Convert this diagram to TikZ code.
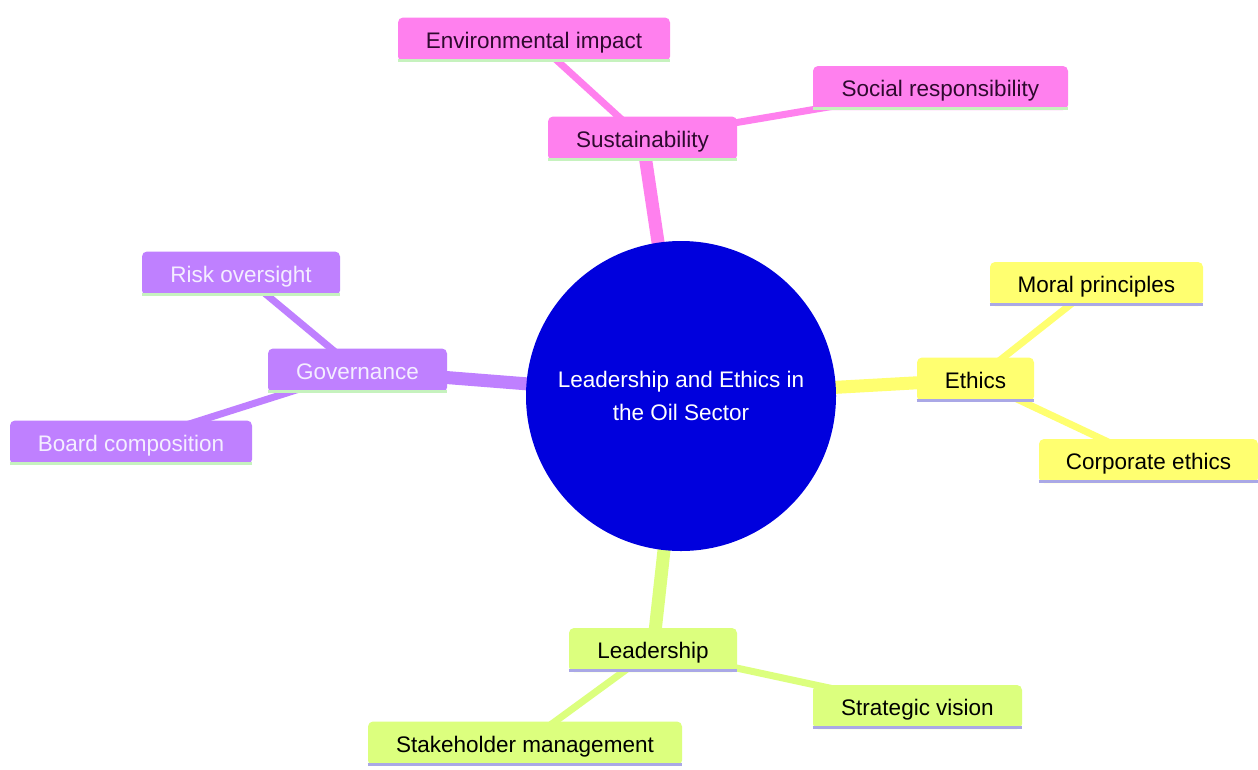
\documentclass[tikz,border=0pt]{standalone}
\usepackage{fontspec}
\setmainfont{Liberation Sans}
\usetikzlibrary{backgrounds}
\definecolor{pinkc}{HTML}{FF80EE}
\definecolor{purpc}{HTML}{BF80FF}
\definecolor{yelc}{HTML}{FFFF70}
\definecolor{limec}{HTML}{DCFF7E}
\definecolor{bluec}{HTML}{0000DD}
\definecolor{pinktxt}{HTML}{2E0A2E}
\definecolor{purptxt}{HTML}{F4EEFF}
\definecolor{greenstripe}{HTML}{C6F2BE}
\definecolor{lavstripe}{HTML}{AAA8E6}
\tikzset{
  box/.style={rounded corners=5pt, inner sep=0pt, font=\fontsize{22.5}{27}\selectfont, minimum height=44pt, text height=20pt, text depth=3pt},
  pinkbox/.style={box, fill=pinkc, text=pinktxt},
  purpbox/.style={box, fill=purpc, text=purptxt},
  yelbox/.style={box, fill=yelc, text=black},
  limebox/.style={box, fill=limec, text=black},
  mainedge/.style={line width=13pt},
  childedge/.style={line width=7pt},
  stripe/.style={line width=3pt},
}
\newcommand{\stripeunder}[2]{\draw[stripe, #2] ([yshift=1.5pt]#1.south west) -- ([yshift=1.5pt]#1.south east);}
\begin{document}
\begin{tikzpicture}[x=1pt, y=-1pt]
\useasboundingbox (0,0) rectangle (1258,769);
% center
\node[circle, fill=bluec, minimum size=310pt, inner sep=0pt, text=white, align=center,
  font=\fontsize{22.5}{33}\selectfont] (c) at (681,396) {Leadership and Ethics in\\the Oil Sector};
% sustainability
\node[pinkbox, minimum width=272pt] (env) at (534,39.5) {Environmental impact};
\node[pinkbox, minimum width=255pt] (soc) at (940.5,88) {Social responsibility};
\node[pinkbox, minimum width=189pt] (sus) at (642.5,138.5) {Sustainability};
% governance
\node[purpbox, minimum width=198pt] (risk) at (241,273.5) {Risk oversight};
\node[purpbox, minimum width=179pt] (gov) at (357.5,370.5) {Governance};
\node[purpbox, minimum width=242pt] (board) at (131,442.5) {Board composition};
% ethics
\node[yelbox, minimum width=213pt] (moral) at (1096.5,284) {Moral principles};
\node[yelbox, minimum width=117pt] (eth) at (975.5,379.5) {Ethics};
\node[yelbox, minimum width=219pt] (corp) at (1148.5,461) {Corporate ethics};
% leadership
\node[limebox, minimum width=168pt] (lead) at (653,650) {Leadership};
\node[limebox, minimum width=209pt] (strat) at (917.5,707) {Strategic vision};
\node[limebox, minimum width=314pt] (stake) at (525,743.5) {Stakeholder management};
% stripes
\stripeunder{env}{greenstripe}
\stripeunder{soc}{greenstripe}
\stripeunder{sus}{greenstripe}
\stripeunder{risk}{greenstripe}
\stripeunder{gov}{greenstripe}
\stripeunder{board}{greenstripe}
\stripeunder{moral}{lavstripe}
\stripeunder{eth}{lavstripe}
\stripeunder{corp}{lavstripe}
\stripeunder{lead}{lavstripe}
\stripeunder{strat}{lavstripe}
\stripeunder{stake}{lavstripe}
\begin{scope}[on background layer]
\fill[white] (0,0) rectangle (1258,769);
\draw[mainedge, pinkc] (c.center) -- (sus.center);
\draw[mainedge, purpc] (c.center) -- (gov.center);
\draw[mainedge, yelc] (c.center) -- (eth.center);
\draw[mainedge, limec] (c.center) -- (lead.center);
\draw[childedge, pinkc] (sus.center) -- (env.center);
\draw[childedge, pinkc] (sus.center) -- (soc.center);
\draw[childedge, purpc] (gov.center) -- (risk.center);
\draw[childedge, purpc] (gov.center) -- (board.center);
\draw[childedge, yelc] (eth.center) -- (moral.center);
\draw[childedge, yelc] (eth.center) -- (corp.center);
\draw[childedge, limec] (lead.center) -- (strat.center);
\draw[childedge, limec] (lead.center) -- (stake.center);
\end{scope}
\end{tikzpicture}
\end{document}
